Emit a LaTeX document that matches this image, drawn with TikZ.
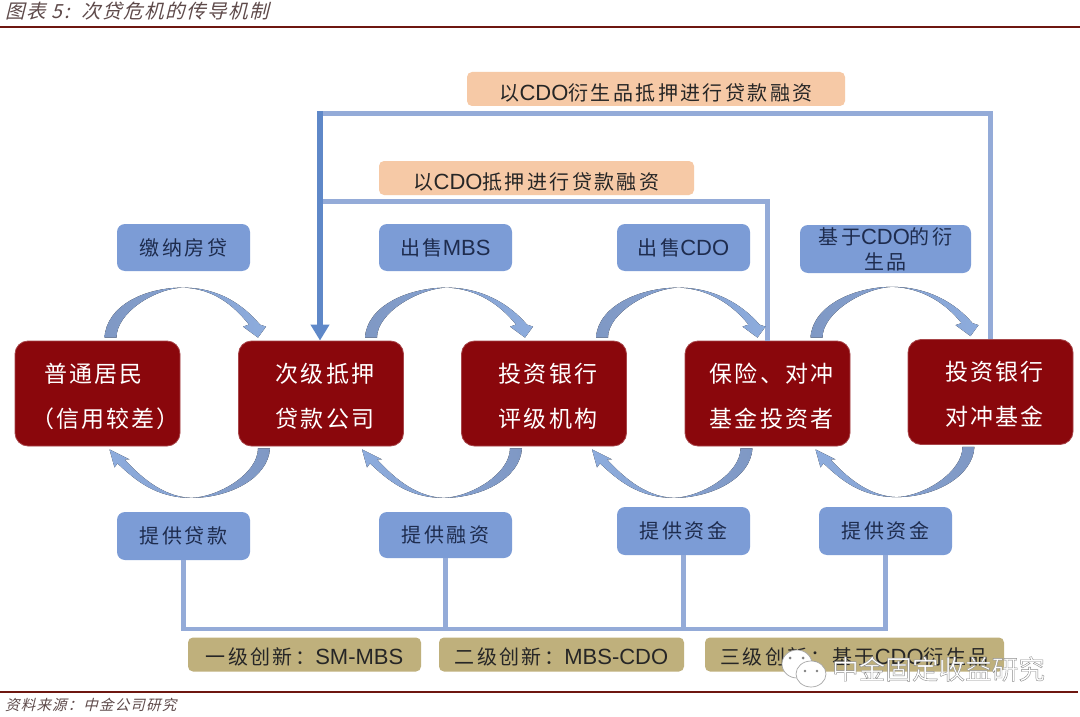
\documentclass[tikz,border=0pt]{standalone}
\usepackage{fontspec}
\usetikzlibrary{calc,arrows.meta}
\setmainfont{Noto Sans CJK SC}
\newfontfamily\wide[LetterSpace=9]{Noto Sans CJK SC}
\newfontfamily\tight[LetterSpace=12]{Noto Sans CJK SC}
\newfontfamily\slant[FakeSlant=0.25,LetterSpace=8]{Noto Sans CJK SC}
\newfontfamily\arial{Liberation Sans}
\newcommand{\lat}[1]{{\arial\fontsize{22}{25}\selectfont #1}}
\newcommand{\redline}[2][8pt]{\hspace*{#1}\raisebox{-3.5pt}[20pt][5pt]{#2}}
\definecolor{boxred}{HTML}{8A070C}
\definecolor{boxblue}{HTML}{7C9CD6}
\definecolor{boxpeach}{HTML}{F6C9A6}
\definecolor{boxtan}{HTML}{BFB07C}
\definecolor{arctail}{HTML}{7F98C4}
\definecolor{arcmid}{HTML}{B4C5E2}
\definecolor{archead}{HTML}{8DACDD}
\definecolor{lineblue}{HTML}{94ABD8}
\definecolor{linestrong}{HTML}{5F88C8}
\definecolor{inkblue}{HTML}{1E2C4E}
\definecolor{rulered}{HTML}{6E1710}
\definecolor{capgray}{HTML}{5E4A4A}
\tikzset{
  redbox/.style={draw=boxred!75!white,line width=0.8pt,fill=boxred,rounded corners=13pt,minimum width=165pt,minimum height=105pt,
    inner sep=0pt,text=white,align=center,font=\fontsize{23}{45}\selectfont\wide},
  bluebox/.style={fill=boxblue,rounded corners=8pt,minimum width=133pt,minimum height=47pt,inner sep=0pt,
    text=inkblue,align=center,font=\fontsize{20}{25}\selectfont\tight},
  peachbox/.style={fill=boxpeach,rounded corners=5pt,minimum height=34pt,inner sep=0pt,text=black!85,
    font=\fontsize{20}{25}\selectfont\tight,execute at begin node={\rule{0pt}{24pt}}},
  tanbox/.style={fill=boxtan,rounded corners=5pt,minimum height=34pt,inner sep=0pt,text=black!85,
    font=\fontsize{20}{25}\selectfont\tight,execute at begin node={\rule{0pt}{22pt}}},
  caption/.style={inner sep=0pt,anchor=west,text=capgray},
  toparcfill/.style={left color=arctail,middle color=arcmid,right color=archead},
  botarcfill/.style={left color=archead,middle color=arcmid,right color=arctail},
  feedline/.style={draw=lineblue,line width=5pt},
  loanline/.style={draw=lineblue,line width=4.5pt}
}
% arc over the boxes: source, tail offset, target, tip offset
\newcommand{\toparc}[4]{
  \coordinate (tl) at ([shift={(#2,-3)}]#1.north);
  \coordinate (tip) at ([shift={(#4,-3)}]#3.north);
  \coordinate (mid) at ($(tl)!.51!(tip)+(0,-50)$);
  \fill[toparcfill] (tl) .. controls +(2,-32) and +(-38,0) .. (mid)
    .. controls +(36,0) and +(-17,-20) .. ([shift={(2,-13)}]tip)
    -- ([shift={(8,-11)}]tip) -- (tip) -- ([shift={(-15,-11)}]tip) -- ([shift={(-9,-13)}]tip)
    .. controls +(-16,-20) and +(30,1) .. (mid)
    .. controls +(-28,1) and +(0,-25) .. ([xshift=12pt]tl) -- cycle;
}
% arc under the boxes
\newcommand{\botarc}[4]{
  \coordinate (tr) at ([shift={(#2,2)}]#1.south);
  \coordinate (tip) at ([shift={(#4,3)}]#3.south);
  \coordinate (mid) at ($(tr)!.49!(tip)+(0,49)$);
  \fill[botarcfill] (tr) .. controls +(-2,30) and +(38,0) .. (mid)
    .. controls +(-36,0) and +(17,16) .. ([shift={(8,14)}]tip)
    -- ([shift={(5,18)}]tip) -- (tip) -- ([shift={(20,10)}]tip) -- ([shift={(15,10)}]tip)
    .. controls +(14,15) and +(-30,-1) .. (mid)
    .. controls +(28,-1) and +(0,25) .. ([xshift=-12pt]tr) -- cycle;
}
\begin{document}
\begin{tikzpicture}[x=1pt,y=-1pt]
  \useasboundingbox (0,0) rectangle (1080,717);
  \fill[white] (0,0) rectangle (1080,717);

  % header and footer
  \node[caption,font=\fontsize{19.5}{22}\selectfont\slant] (title) at (5,11) {图表 5:\ \ 次贷危机的传导机制};
  \coordinate (headl) at (0,27);
  \coordinate (headr) at (1080,27);
  \draw[rulered,line width=1.6pt] (headl) -- (headr);
  \coordinate (footl) at (0,692);
  \coordinate (footr) at (1078,692);
  \draw[rulered,line width=1.6pt] (footl) -- (footr);
  \node[caption,font=\fontsize{14.5}{16}\selectfont\slant] (source) at (5,705) {资料来源：中金公司研究};

  % main row
  \node[redbox] (resident) at (97.5,393.5) {\redline[-8pt]{普通居民}\\\redline[16pt]{（信用较差）}};
  \node[redbox] (lender) at (321,393.5) {\redline{次级抵押}\\\redline{贷款公司}};
  \node[redbox] (bank) at (544,393.5) {\redline{投资银行}\\\redline{评级机构}};
  \node[redbox] (insurer) at (767.5,393.5) {\redline{保险、对冲}\\\redline{基金投资者}};
  \node[redbox] (fund) at (990.5,392) {\redline{投资银行}\\\redline{对冲基金}};

  % labels over the row
  \node[bluebox] (pay) at (183.5,247.5) {缴纳房贷};
  \node[bluebox] (sellmbs) at (445.5,247.5) {出售\lat{MBS}};
  \node[bluebox] (sellcdo) at (683.5,247.5) {出售\lat{CDO}};
  \node[bluebox,minimum width=171pt,minimum height=48pt] (deriv) at (885.5,249) {基于\lat{CDO}的衍\\生品};

  % labels under the row
  \node[bluebox,minimum height=48pt] (loan) at (183.5,536) {提供贷款};
  \node[bluebox,minimum height=46pt] (finance) at (445.5,535) {提供融资};
  \node[bluebox,minimum height=48pt] (funda) at (683.5,531) {提供资金};
  \node[bluebox,minimum height=48pt] (fundb) at (885.5,531) {提供资金};

  % refinancing
  \node[peachbox,minimum width=378pt] (derivloan) at (656,89) {以\lat{CDO}衍生品抵押进行贷款融资};
  \node[peachbox,minimum width=315pt] (cdoloan) at (536.5,178) {以\lat{CDO}抵押进行贷款融资};
  \coordinate (innerbend) at (321,201);
  \coordinate (outerbend) at (320,114);
  \draw[feedline] (insurer.north) |- (innerbend);
  \draw[feedline] (fund.north) |- (outerbend);
  \draw[linestrong,line width=6.5pt,-{Triangle[width=18pt,length=16pt]}] ([yshift=2.5pt]outerbend) -- (outerbend |- lender.north);

  % arcs
  \toparc{resident}{7}{lender}{-63}
  \toparc{lender}{44}{bank}{-19}
  \toparc{bank}{52}{insurer}{-10}
  \toparc{insurer}{43}{fund}{-20}
  \botarc{lender}{-51}{resident}{12}
  \botarc{bank}{-22}{lender}{41}
  \botarc{insurer}{-15}{bank}{48}
  \botarc{fund}{-16}{insurer}{48}

  % innovation levels
  \coordinate (busr) at (885.5,629);
  \draw[loanline] (fundb.south) |- (loan.south |- busr) -- (loan.south);
  \draw[loanline] (finance.south) -- (finance.south |- busr);
  \draw[loanline] (funda.south) -- (funda.south |- busr);
  \node[tanbox,minimum width=233pt] (levela) at (304.5,654.5) {一级创新：\lat{SM-MBS}};
  \node[tanbox,minimum width=245pt] (levelb) at (561.5,654.5) {二级创新：\lat{MBS-CDO}};
  \node[tanbox,minimum width=299pt] (levelc) at (854.5,654.5) {三级创新：基于\lat{CDO}衍生品};

  % watermark
  \draw[gray!70,fill=white,line width=0.7pt] (797,664) ellipse (15 and 14);
  \draw[gray!70,fill=white,line width=0.7pt] (811,674) ellipse (15 and 13);
  \fill[gray] (790,658) circle (1.5) (803,658) circle (1.5) (805,671) circle (1.3) (817,671) circle (1.3);
  \node[inner sep=0pt,font=\fontsize{26.6}{30}\selectfont] (mark) at (938.5,669)
    {\color{white}\special{pdf:code 0.55 G 0.4 w 2 Tr}中金固定收益研究\special{pdf:code 0 Tr}};
\end{tikzpicture}
\end{document}
